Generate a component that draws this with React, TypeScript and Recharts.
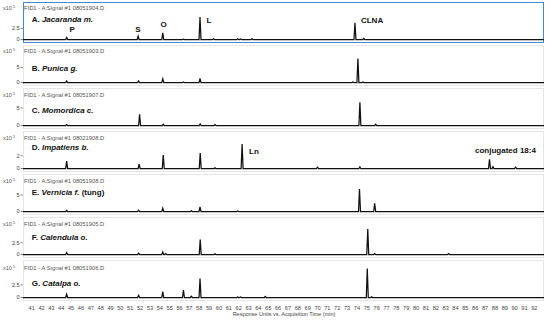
import React from 'react';
import { LineChart, Line, XAxis, YAxis, ReferenceDot } from 'recharts';

// ---------- data ----------
const timeTicks = [41, 42, 43, 44, 45, 46, 47, 48, 49, 50, 51, 52, 53, 54, 55, 56, 57, 58, 59, 60, 61, 62, 63, 64, 65, 66, 67, 68, 69, 70, 71, 72, 73, 74, 75, 76, 77, 78, 79, 80, 81, 82, 83, 84, 85, 86, 87, 88, 89, 90, 91, 92];
const timeDomain: [number, number] = [40.09, 92.98];

const fileNames = ['08051904.D', '08051903.D', '08051907.D', '08021908.D', '08051908.D', '08051905.D', '08051906.D'];
const panelLetters = ['A.', 'B.', 'C.', 'D.', 'E.', 'F.', 'G.'];
const speciesNames = ['Jacaranda m.', 'Punica g.', 'Momordica c.', 'Impatiens b.', 'Vernicia f.', 'Calendula o.', 'Catalpa o.'];
const speciesNotes = ['', '', '', '', '(tung)', '', ''];
const yTickValues = [[0, 2.5], [0, 5], [0, 5], [0, 2], [0, 5], [0, 2.5], [0, 2.5]];

// peaks: [retention time (min), response (x10^5)]
const jacarandaPeaks: [number, number][] = [[44.55, 0.45], [51.8, 0.75], [54.3, 1.5], [56.4, 0.1], [58.08, 5.1], [59.45, 0.15], [61.9, 0.15], [62.2, 0.12], [63.35, 0.15], [73.8, 3.8], [74.7, 0.25]];
const punicaPeaks: [number, number][] = [[44.55, 0.5], [51.85, 0.5], [54.3, 1.2], [56.4, 0.15], [58.08, 1.4], [73.6, 0.2], [74.1, 8.0], [74.6, 0.2]];
const momordicaPeaks: [number, number][] = [[44.55, 0.25], [51.95, 3.2], [54.35, 0.35], [58.1, 0.45], [59.6, 0.25], [74.3, 6.6], [75.9, 0.35]];
const impatiensPeaks: [number, number][] = [[44.55, 1.15], [51.9, 0.7], [54.35, 2.1], [58.1, 2.45], [59.6, 0.1], [62.35, 3.85], [70.0, 0.2], [74.3, 0.25], [87.45, 1.45], [87.8, 0.3], [90.1, 0.2]];
const verniciaPeaks: [number, number][] = [[44.55, 0.3], [51.85, 0.4], [54.3, 1.0], [57.2, 0.2], [58.08, 1.4], [61.9, 0.15], [74.26, 6.8], [75.8, 2.5]];
const calendulaPeaks: [number, number][] = [[44.55, 0.4], [51.85, 0.25], [54.3, 0.55], [54.6, 0.2], [58.1, 3.2], [59.6, 0.15], [75.1, 5.4], [75.8, 0.2], [83.3, 0.2]];
const catalpaPeaks: [number, number][] = [[44.55, 0.65], [51.85, 0.45], [54.3, 1.2], [56.4, 1.5], [57.2, 0.25], [58.08, 3.8], [61.9, 0.12], [62.2, 0.12], [64.7, 0.2], [75.05, 5.8], [75.5, 0.15]];

const jacarandaLabels = [
  { text: 'P', t: 44.84, v: 2.2 },
  { text: 'S', t: 51.51, v: 2.3 },
  { text: 'O', t: 54.07, v: 3.3 },
  { text: 'L', t: 58.74, v: 4.3 },
  { text: 'CLNA', t: 74.41, v: 4.3 },
];
const impatiensLabels = [
  { text: 'Ln', t: 63.05, v: 2.7 },
  { text: 'conjugated 18:4', t: 85.98, v: 2.8 },
];

const allPeaks = [jacarandaPeaks, punicaPeaks, momordicaPeaks, impatiensPeaks, verniciaPeaks, calendulaPeaks, catalpaPeaks];
const allLabels = [jacarandaLabels, [], [], impatiensLabels, [], [], []];

// ---------- layout / style ----------
const FONT = "'Liberation Sans', Arial, Helvetica, sans-serif";
const PEAK_HALF_WIDTH = 0.1;
const PANEL_TOPS = [0, 43, 86, 129, 172, 215, 258];
const PLOT_H = 41;
const ZERO_FROM_TOP = 37.5;
const PX_PER_UNIT = [4.4, 3.0, 3.5, 6.35, 3.3, 4.7, 5.0];
const HEADER_Y = [8.3, 51.7, 95.3, 138.5, 181.5, 224.5, 268.5];
const TITLE_Y = [19.3, 68.5, 110.5, 147, 192.5, 237.5, 283];
const X_AXIS_H = 16;

function buildSeries(peaks: [number, number][]) {
  const pts: { t: number; v: number }[] = [
    { t: timeDomain[0], v: 0 },
    { t: timeDomain[1], v: 0 },
  ];
  peaks.forEach(([t, h]) => {
    pts.push({ t: t - PEAK_HALF_WIDTH, v: 0 }, { t, v: h }, { t: t + PEAK_HALF_WIDTH, v: 0 });
  });
  pts.sort((a, b) => a.t - b.t);
  return pts;
}

const PeakLabel = (text: string) => (props: any) => {
  const vb = props.viewBox || {};
  return (
    <text x={vb.x} y={vb.y} textAnchor="start" dominantBaseline="central" fontFamily={FONT} fontSize={8} fontWeight="bold" fill="#111">
      {text}
    </text>
  );
};

function Panel({ i }: { i: number }) {
  const top = PANEL_TOPS[i];
  const ppu = PX_PER_UNIT[i];
  const domain: [number, number] = [-(PLOT_H - ZERO_FROM_TOP) / ppu, ZERO_FROM_TOP / ppu];
  const last = i === 6;
  const h = last ? PLOT_H + X_AXIS_H : PLOT_H;
  const data = buildSeries(allPeaks[i]);
  const isFirst = i === 0;
  return (
    <>
      <div
        style={{
          position: 'absolute',
          left: 22.7,
          top: top + 2,
          width: 521.3,
          height: PLOT_H,
          boxSizing: 'border-box',
          border: isFirst ? '1.5px solid #3f8bd6' : '1px solid #e6e6e6',
        }}
      />
      <div style={{ position: 'absolute', left: 0, top: top + 2, width: 550, height: h }}>
        <LineChart width={550} height={h} data={data} margin={{ top: 0, right: 6, bottom: 0, left: 0 }}>
          <XAxis
            dataKey="t"
            type="number"
            domain={timeDomain}
            ticks={timeTicks}
            interval={0}
            hide={!last}
            height={X_AXIS_H}
            tickLine={false}
            axisLine={false}
            tickSize={2}
            tickMargin={3}
            tick={{ fontSize: 5.6, fill: '#444', fontFamily: FONT }}
            allowDataOverflow
          />
          <YAxis
            type="number"
            domain={domain}
            ticks={yTickValues[i]}
            interval={0}
            width={22.7}
            axisLine={false}
            tickSize={2}
            tickMargin={1}
            tickLine={{ stroke: '#777' }}
            tick={{ fontSize: 5.6, fill: '#444', fontFamily: FONT }}
            allowDataOverflow
          />
          <Line dataKey="v" type="linear" stroke="#111" strokeWidth={1.25} dot={false} isAnimationActive={false} />
          {allLabels[i].map((lb) => (
            <ReferenceDot key={lb.text} x={lb.t} y={lb.v} r={0} fill="none" stroke="none" label={PeakLabel(lb.text)} />
          ))}
        </LineChart>
      </div>
      <div
        style={{
          position: 'absolute',
          left: 3,
          top: HEADER_Y[i] - 3.5,
          fontFamily: FONT,
          fontSize: 5.5,
          lineHeight: '7px',
          color: '#555',
          whiteSpace: 'nowrap',
        }}
      >
        x10<sup style={{ fontSize: 4, verticalAlign: 'top', lineHeight: '4px', marginLeft: 1 }}>5</sup>
      </div>
      <div
        style={{
          position: 'absolute',
          left: 24,
          top: HEADER_Y[i] - 3.5,
          fontFamily: FONT,
          fontSize: 5.8,
          lineHeight: '7px',
          color: '#555',
          whiteSpace: 'nowrap',
        }}
      >
        {'FID1 - A:Signal #1 ' + fileNames[i]}
      </div>
      <div
        style={{
          position: 'absolute',
          left: 31.7,
          top: TITLE_Y[i] - 4.5,
          fontFamily: FONT,
          fontSize: 8,
          fontWeight: 'bold',
          lineHeight: '9px',
          color: '#111',
          whiteSpace: 'nowrap',
        }}
      >
        {panelLetters[i] + ' '}
        <i>{speciesNames[i]}</i>
        {speciesNotes[i] ? ' ' + speciesNotes[i] : ''}
      </div>
    </>
  );
}

export default function App() {
  return (
    <div style={{ position: 'absolute', left: 0, top: 0, width: 550, height: 320, background: '#fff', overflow: 'hidden' }}>
      {[0, 1, 2, 3, 4, 5, 6].map((i) => (
        <Panel key={i} i={i} />
      ))}
      <div
        style={{
          position: 'absolute',
          left: 0,
          width: 568,
          top: 311,
          textAlign: 'center',
          fontFamily: FONT,
          fontSize: 5.5,
          lineHeight: '7px',
          color: '#444',
        }}
      >
        Response Units vs. Acquisition Time (min)
      </div>
    </div>
  );
}
